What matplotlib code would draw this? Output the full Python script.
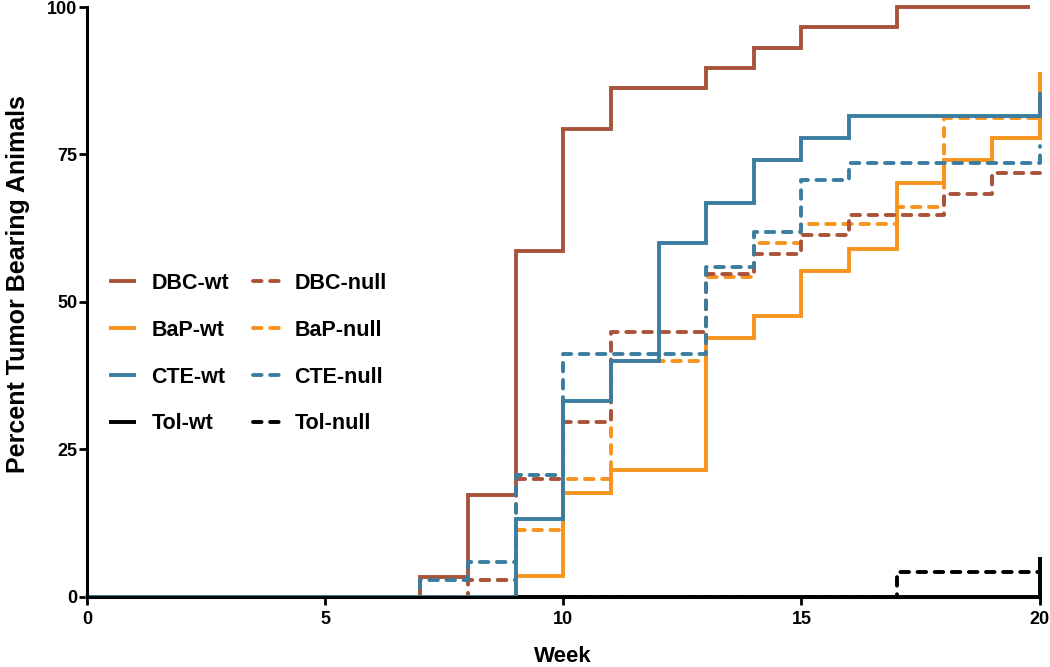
import matplotlib
matplotlib.use("Agg")
from matplotlib import pyplot as plt

plt.rcParams["font.family"] = ["Liberation Sans", "DejaVu Sans"]

# step data (week, percent)
dbc_wt_weeks = [0, 7, 8, 9, 10, 11, 13, 14, 15, 17, 19.8]
dbc_wt = [0, 3.4, 17.2, 58.6, 79.3, 86.2, 89.7, 93.1, 96.6, 100, 100]

dbc_null_weeks = [0, 8, 9, 10, 11, 13, 14, 15, 16, 18, 19, 20]
dbc_null = [0, 2.9, 20.0, 29.7, 44.9, 54.8, 58.1, 61.4, 64.7, 68.3, 71.9, 71.9]

bap_wt_weeks = [0, 9, 10, 11, 13, 14, 15, 16, 17, 18, 19, 20]
bap_wt = [0, 3.5, 17.6, 21.5, 43.9, 47.6, 55.3, 59.0, 70.2, 74.1, 77.8, 88.9]

bap_null_weeks = [0, 8, 9, 10, 11, 13, 14, 15, 17, 18, 20]
bap_null = [0, 2.9, 11.4, 20.0, 40.0, 54.3, 60.0, 63.2, 66.1, 81.2, 81.2]

cte_wt_weeks = [0, 9, 10, 11, 12, 13, 14, 15, 16, 20]
cte_wt = [0, 13.3, 33.3, 40.0, 60.0, 66.7, 74.1, 77.8, 81.5, 85.6]

cte_null_weeks = [0, 7, 8, 9, 10, 13, 14, 15, 16, 20]
cte_null = [0, 2.9, 5.9, 20.6, 41.2, 55.9, 61.8, 70.6, 73.5, 76.5]

tol_wt_weeks = [0, 20]
tol_wt = [0, 6.8]

tol_null_weeks = [0, 17, 20]
tol_null = [0, 4.2, 4.2]

BROWN = "#A9533B"
ORANGE = "#F7941D"
BLUE = "#3A7DA0"
BLACK = "#000000"

fig = plt.figure(figsize=(10.5, 6.67), dpi=100)
ax = fig.add_axes([0.0829, 0.105, 0.9071, 0.8845])

lw = 2.8
dash = (2.2, 2.2)


def draw(weeks, vals, color, dashed, label):
    kw = dict(where="post", color=color, lw=lw, clip_on=False, label=label,
              solid_capstyle="butt", solid_joinstyle="miter")
    if dashed:
        kw.update(dashes=dash, dash_capstyle="round", dash_joinstyle="round")
    line, = ax.step(weeks, vals, **kw)
    return line


h_tol_wt = draw(tol_wt_weeks, tol_wt, BLACK, False, "Tol-wt")
h_tol_null = draw(tol_null_weeks, tol_null, BLACK, True, "Tol-null")
h_bap_wt = draw(bap_wt_weeks, bap_wt, ORANGE, False, "BaP-wt")
h_bap_null = draw(bap_null_weeks, bap_null, ORANGE, True, "BaP-null")
h_dbc_wt = draw(dbc_wt_weeks, dbc_wt, BROWN, False, "DBC-wt")
h_dbc_null = draw(dbc_null_weeks, dbc_null, BROWN, True, "DBC-null")
h_cte_wt = draw(cte_wt_weeks, cte_wt, BLUE, False, "CTE-wt")
h_cte_null = draw(cte_null_weeks, cte_null, BLUE, True, "CTE-null")

ax.set_xlim(0, 20)
ax.set_ylim(0, 100)
ax.set_xticks([0, 5, 10, 15, 20])
ax.set_yticks([0, 25, 50, 75, 100])

for side in ["top", "right"]:
    ax.spines[side].set_visible(False)
for side in ["left", "bottom"]:
    ax.spines[side].set_linewidth(2.2)
ax.tick_params(width=2.0, length=6, labelsize=13)
for lab in ax.get_xticklabels() + ax.get_yticklabels():
    lab.set_fontweight("bold")
ax.tick_params(axis="x", pad=4)
ax.tick_params(axis="y", pad=1)

ax.set_xlabel("Week", fontsize=16, fontweight="bold", labelpad=13)
ax.set_ylabel("Percent Tumor Bearing Animals", fontsize=18, fontweight="bold")
ax.yaxis.set_label_coords(-0.06, 0.53)

handles = [h_dbc_wt, h_bap_wt, h_cte_wt, h_tol_wt,
           h_dbc_null, h_bap_null, h_cte_null, h_tol_null]
ax.legend(handles=handles, labels=[h.get_label() for h in handles], ncol=2,
          frameon=False, prop={"weight": "bold", "size": 15.5},
          handlelength=1.25, handletextpad=0.7, columnspacing=1.1,
          labelspacing=1.2, loc="upper left", bbox_to_anchor=(0.003, 0.582))

fig.savefig("out.png", dpi=100)
